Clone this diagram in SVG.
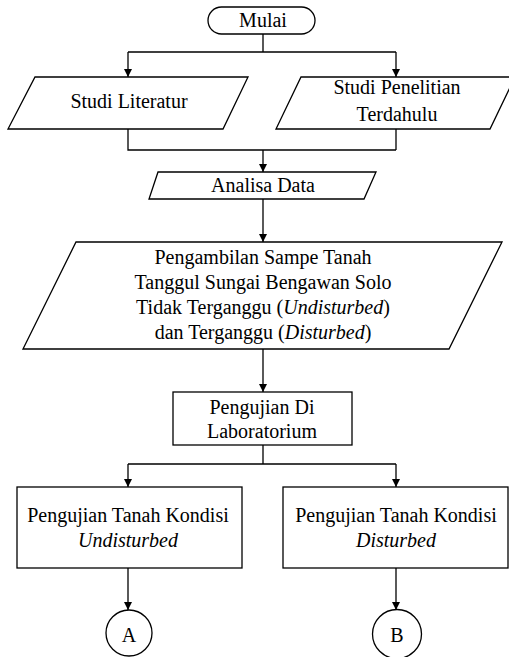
<svg xmlns="http://www.w3.org/2000/svg" width="509" height="657" viewBox="0 0 509 657">
<defs>
<marker id="ah" viewBox="0 0 10 10" refX="10" refY="5" markerWidth="9" markerHeight="8" markerUnits="userSpaceOnUse" orient="auto">
<path d="M0,0 L10,5 L0,10 z" fill="#000"/>
</marker>
</defs>
<rect width="509" height="657" fill="#fff"/>
<g id="connectors" fill="none" stroke="#000" stroke-width="1.3">
<path d="M263,34 V52 M128,52 H396"/>
<path d="M128,52 V77" marker-end="url(#ah)"/>
<path d="M396,52 V77" marker-end="url(#ah)"/>
<path d="M128,129 V150 H396 M396,129 V150"/>
<path d="M263,150 V172" marker-end="url(#ah)"/>
<path d="M263,199 V242" marker-end="url(#ah)"/>
<path d="M263,349 V392" marker-end="url(#ah)"/>
<path d="M263,445 V464 M128,464 H396"/>
<path d="M128,464 V487" marker-end="url(#ah)"/>
<path d="M396,464 V487" marker-end="url(#ah)"/>
<path d="M128,568 V610" marker-end="url(#ah)"/>
<path d="M396,568 V610" marker-end="url(#ah)"/>
</g>
<g id="mulai">
<rect x="208" y="7" width="107" height="27" rx="13.5" fill="#fff" stroke="#000" stroke-width="1.3"/>
<text x="263" y="27" font-family="Liberation Serif" font-size="20" text-anchor="middle">Mulai</text>
</g>
<g id="studi-literatur">
<polygon points="35,77 248,77 223,129 8,129" fill="#fff" stroke="#000" stroke-width="1.3"/>
<text x="129" y="108" font-family="Liberation Serif" font-size="20" text-anchor="middle">Studi Literatur</text>
</g>
<g id="studi-penelitian">
<polygon points="301,77 515,77 490,129 276,129" fill="#fff" stroke="#000" stroke-width="1.3"/>
<text x="397" y="94" font-family="Liberation Serif" font-size="20" text-anchor="middle">Studi Penelitian</text>
<text x="397" y="121" font-family="Liberation Serif" font-size="20" text-anchor="middle">Terdahulu</text>
</g>
<g id="analisa-data">
<polygon points="158,172 376,172 364,199 149,199" fill="#fff" stroke="#000" stroke-width="1.3"/>
<text x="263" y="192" font-family="Liberation Serif" font-size="20" text-anchor="middle">Analisa Data</text>
</g>
<g id="pengambilan">
<polygon points="76,242 502,242 449,349 23,349" fill="#fff" stroke="#000" stroke-width="1.3"/>
<text x="263" y="264" font-family="Liberation Serif" font-size="20" text-anchor="middle">Pengambilan Sampe Tanah</text>
<text x="263" y="289" font-family="Liberation Serif" font-size="20" text-anchor="middle">Tanggul Sungai Bengawan Solo</text>
<text x="263" y="314" font-family="Liberation Serif" font-size="20" text-anchor="middle">Tidak Terganggu (<tspan font-style="italic">Undisturbed</tspan>)</text>
<text x="263" y="339" font-family="Liberation Serif" font-size="20" text-anchor="middle">dan Terganggu (<tspan font-style="italic">Disturbed</tspan>)</text>
</g>
<g id="laboratorium">
<rect x="173" y="392" width="179" height="53" fill="#fff" stroke="#000" stroke-width="1.3"/>
<text x="262" y="414" font-family="Liberation Serif" font-size="20" text-anchor="middle">Pengujian Di</text>
<text x="262" y="438" font-family="Liberation Serif" font-size="20" text-anchor="middle">Laboratorium</text>
</g>
<g id="undisturbed">
<rect x="17" y="487" width="225" height="81" fill="#fff" stroke="#000" stroke-width="1.3"/>
<text x="128" y="522" font-family="Liberation Serif" font-size="20" text-anchor="middle">Pengujian Tanah Kondisi</text>
<text x="128" y="547" font-family="Liberation Serif" font-size="20" text-anchor="middle" font-style="italic">Undisturbed</text>
</g>
<g id="disturbed">
<rect x="283" y="487" width="225" height="81" fill="#fff" stroke="#000" stroke-width="1.3"/>
<text x="396" y="522" font-family="Liberation Serif" font-size="20" text-anchor="middle">Pengujian Tanah Kondisi</text>
<text x="396" y="547" font-family="Liberation Serif" font-size="20" text-anchor="middle" font-style="italic">Disturbed</text>
</g>
<g id="a">
<circle cx="129" cy="633" r="23" fill="#fff" stroke="#000" stroke-width="1.3"/>
<text x="129" y="642" font-family="Liberation Serif" font-size="20" text-anchor="middle">A</text>
</g>
<g id="b">
<circle cx="397" cy="634" r="24.5" fill="#fff" stroke="#000" stroke-width="1.3"/>
<text x="397" y="642" font-family="Liberation Serif" font-size="20" text-anchor="middle">B</text>
</g>
</svg>
